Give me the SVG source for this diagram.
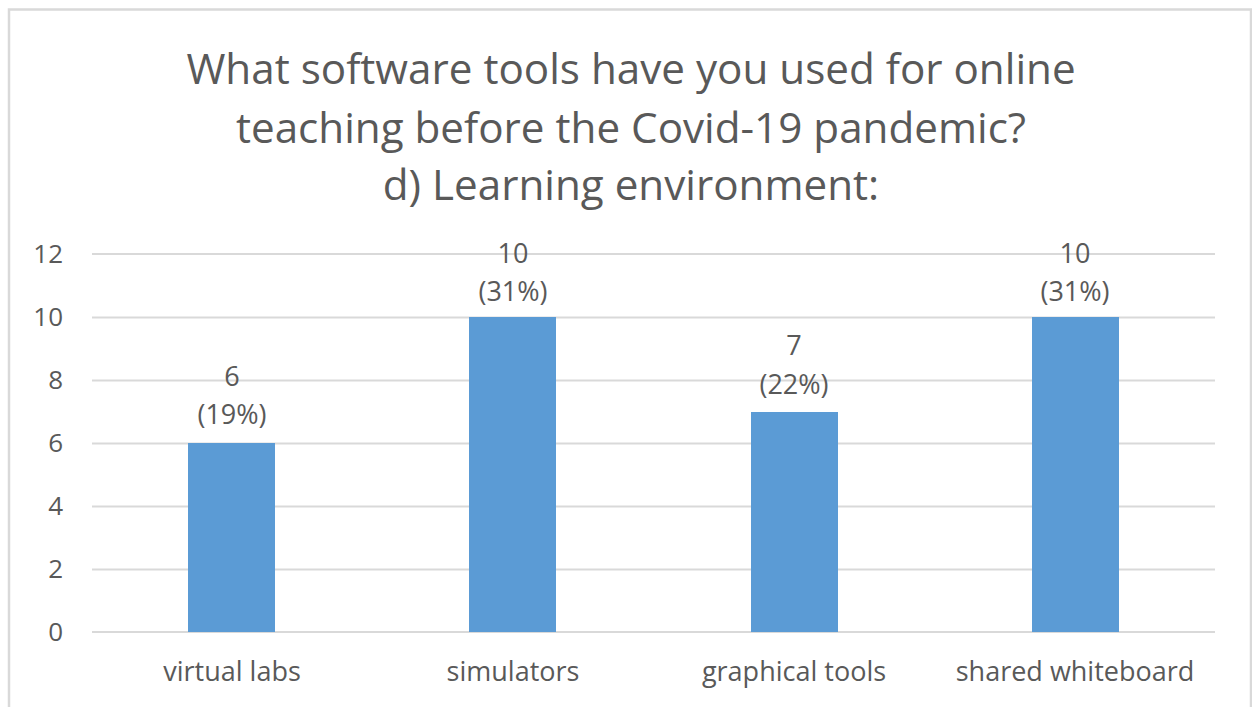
<svg xmlns="http://www.w3.org/2000/svg" width="1252" height="707" viewBox="0 0 1252 707">
<style>
.t{font-family:"Open Sans","Liberation Sans",sans-serif;fill:#595959}
.title{font-size:42.2px;text-anchor:middle}
.ax{font-size:26px;text-anchor:end}
.cat{font-size:27px;text-anchor:middle}
.lbl{font-size:27px;text-anchor:middle}
.grid{stroke:#d9d9d9;stroke-width:2}
.bar{fill:#5b9bd5}
</style>
<rect x="0" y="0" width="1252" height="707" fill="#ffffff"/>
<path d="M9 707 V9.5 H1251 V707" fill="none" stroke="#d9d9d9" stroke-width="2.5"/>
<g id="title">
<text class="t title" x="631" y="84">What software tools have you used for online</text>
<text class="t title" x="631" y="143">teaching before the Covid-19 pandemic?</text>
<text class="t title" x="631" y="200">d) Learning environment:</text>
</g>
<g id="grid">
<line class="grid" x1="92" y1="254" x2="1215" y2="254"/>
<line class="grid" x1="92" y1="317.5" x2="1215" y2="317.5"/>
<line class="grid" x1="92" y1="380.5" x2="1215" y2="380.5"/>
<line class="grid" x1="92" y1="443.5" x2="1215" y2="443.5"/>
<line class="grid" x1="92" y1="506.5" x2="1215" y2="506.5"/>
<line class="grid" x1="92" y1="569.5" x2="1215" y2="569.5"/>
<line class="grid" x1="92" y1="632" x2="1215" y2="632"/>
</g>
<g id="yaxis">
<text class="t ax" x="63" y="263">12</text>
<text class="t ax" x="63" y="326">10</text>
<text class="t ax" x="63" y="389">8</text>
<text class="t ax" x="63" y="452">6</text>
<text class="t ax" x="63" y="515">4</text>
<text class="t ax" x="63" y="578">2</text>
<text class="t ax" x="63" y="641">0</text>
</g>
<g id="bar-virtual-labs">
<rect class="bar" x="188" y="443" width="87" height="189"/>
<text class="t lbl" x="232" y="386">6</text>
<text class="t lbl" x="232" y="424">(19%)</text>
<text class="t cat" x="232" y="681">virtual labs</text>
</g>
<g id="bar-simulators">
<rect class="bar" x="469" y="317" width="87" height="315"/>
<text class="t lbl" x="513" y="263">10</text>
<text class="t lbl" x="513" y="301">(31%)</text>
<text class="t cat" x="513" y="681">simulators</text>
</g>
<g id="bar-graphical-tools">
<rect class="bar" x="751" y="412" width="87" height="220"/>
<text class="t lbl" x="794" y="355">7</text>
<text class="t lbl" x="794" y="394">(22%)</text>
<text class="t cat" x="794" y="681">graphical tools</text>
</g>
<g id="bar-shared-whiteboard">
<rect class="bar" x="1032" y="317" width="87" height="315"/>
<text class="t lbl" x="1075" y="263">10</text>
<text class="t lbl" x="1075" y="301">(31%)</text>
<text class="t cat" x="1075" y="681">shared whiteboard</text>
</g>
</svg>
